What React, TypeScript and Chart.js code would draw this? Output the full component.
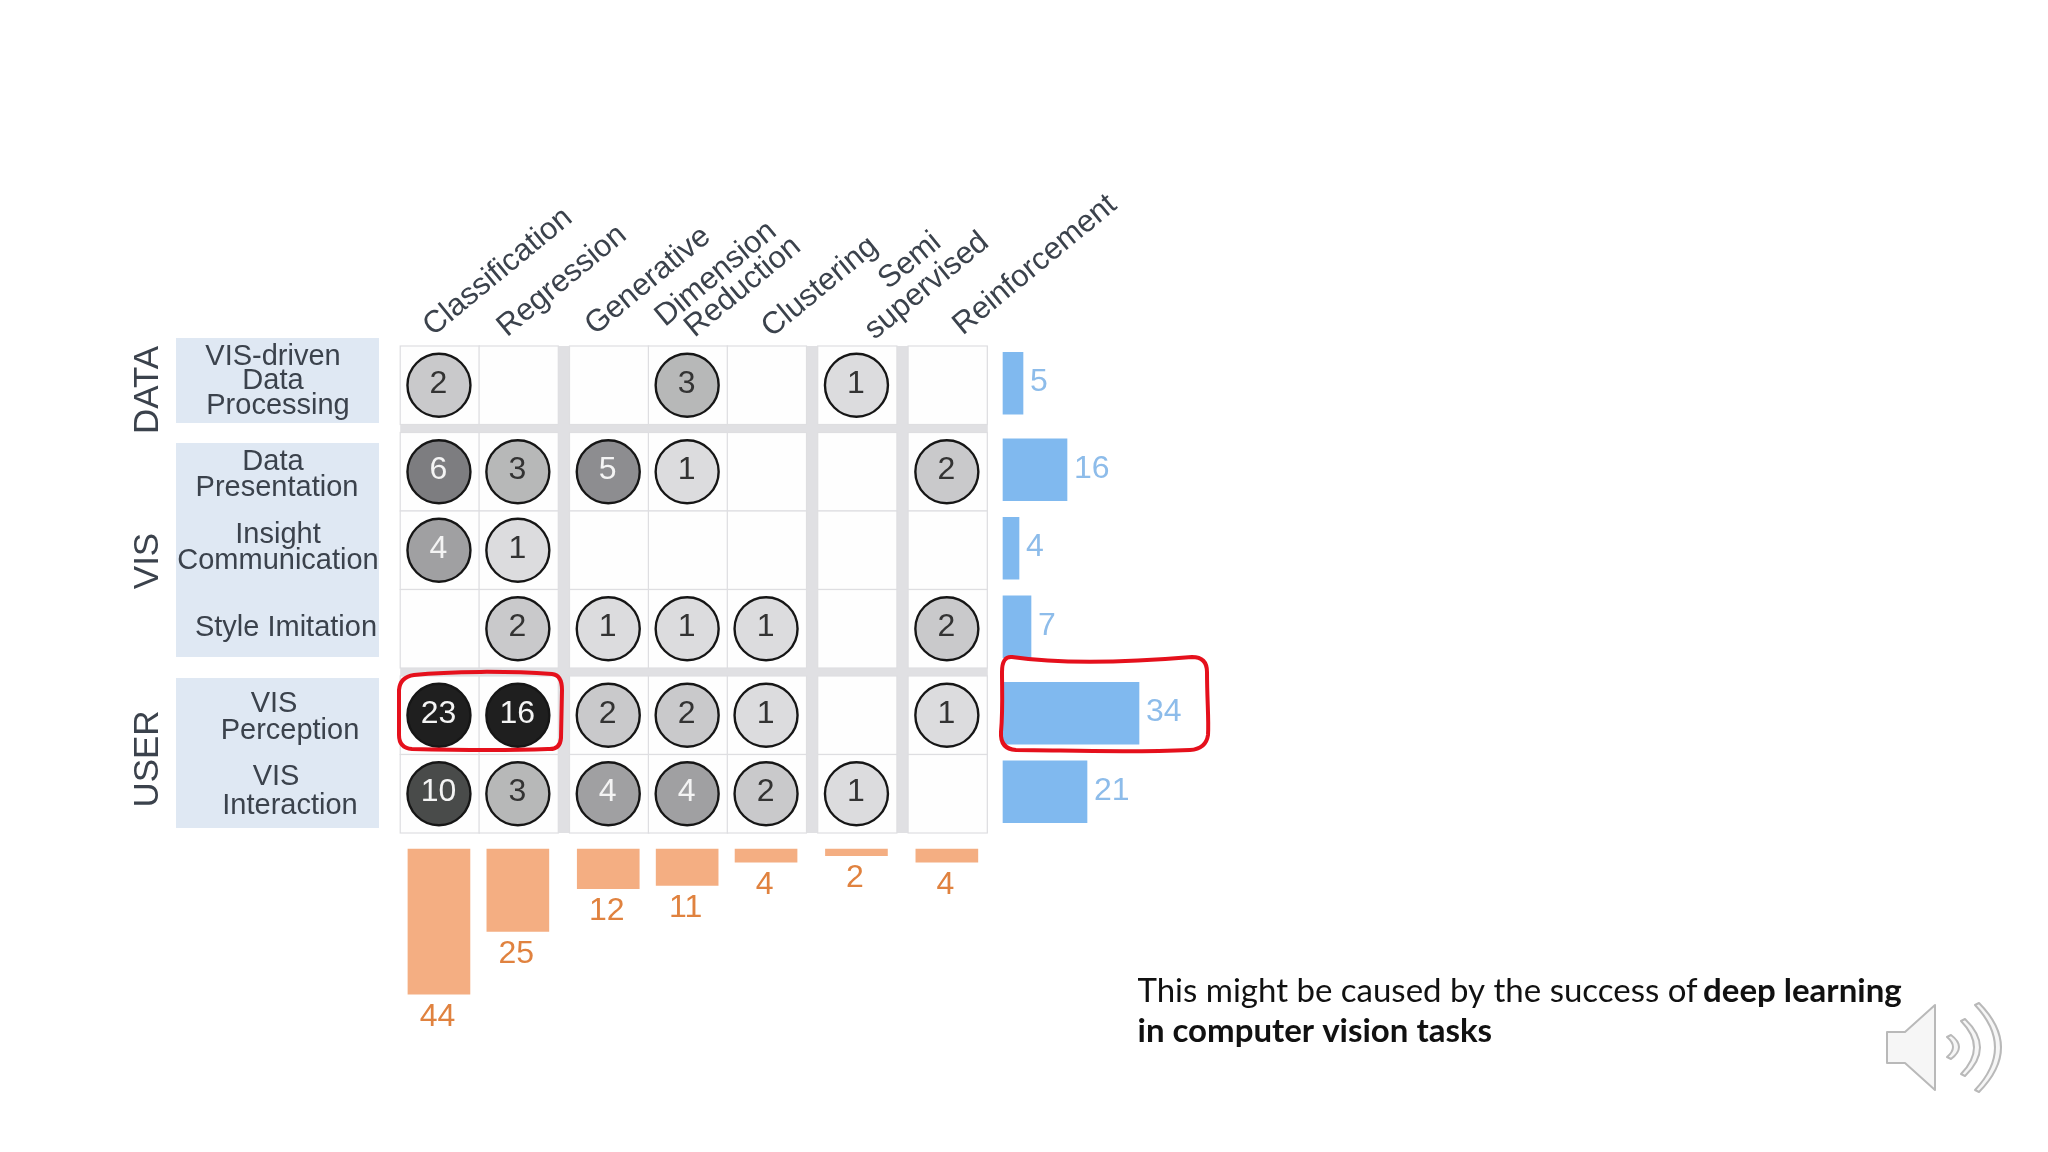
import React, { useEffect, useRef } from "react";
import { Chart, registerables } from "chart.js";

Chart.register(...registerables);

const methods = ["Classification", "Regression", "Generative", "Dimension\nReduction", "Clustering", "Semi\nsupervised", "Reinforcement"];
const tasks = ["VIS-driven\nData\nProcessing", "Data\nPresentation", "Insight\nCommunication", "Style Imitation", "VIS\nPerception", "VIS\nInteraction"];
const stages = ["DATA", "VIS", "USER"];
const row1 = [2, null, null, 3, null, 1, null];
const row2 = [6, 3, 5, 1, null, null, 2];
const row3 = [4, 1, null, null, null, null, null];
const row4 = [null, 2, 1, 1, 1, null, 2];
const row5 = [23, 16, 2, 2, 1, null, 1];
const row6 = [10, 3, 4, 4, 2, 1, null];
const rowTotals = [5, 16, 4, 7, 34, 21];
const columnTotals = [44, 25, 12, 11, 4, 2, 4];

const matrix = [row1, row2, row3, row4, row5, row6];

// layout (pixels on the page)
const LEFT = 399.5, RIGHT = 1230, TOP = 346, BOTTOM = 1060;
const CW = 78.9, RH = 78.5;
const COL_GAP = 11.5 / CW, ROW_GAP = 8 / RH;
const colGroup = [0, 0, 1, 1, 1, 2, 3];
const rowGroup = [0, 1, 1, 1, 2, 2];
const colPos = colGroup.map((g, i) => i + 0.5 + g * COL_GAP);
const rowPos = rowGroup.map((g, i) => i + 0.5 + g * ROW_GAP);
const H_BASE = 1003, H_PX = 4.0, V_BASE = 849, V_PX = 3.3;

const FONT = '"Liberation Sans", Arial, sans-serif';
const INK = "#3b424c";
const shades: Record<number, string> = {
  1: "#dcdcde", 2: "#c9c9cb", 3: "#b7b8b8", 4: "#a0a0a2", 5: "#8d8d90", 6: "#7d7d80",
  10: "#494b4a", 16: "#1f1f1f", 23: "#1f1f1f",
};

const dots: { x: number; y: number; v: number }[] = [];
matrix.forEach((row, r) =>
  row.forEach((v, c) => {
    if (v !== null) dots.push({ x: colPos[c], y: rowPos[r], v });
  })
);

// horizontal centre of each row-label line, on the page
const rowLineCentres = [[273, 273, 278], [273, 277], [278, 278], [286], [274, 290], [276, 290]];
const rowLineY = [[356.5, 380.5, 405.5], [461.5, 487.5], [534.5, 560.5], [627.5], [703.5, 730.5], [776.5, 805.5]];
// centre of each rotated header line, on the page
const headerCentres = [
  [[498, 272]], [[562, 281]], [[648, 281]],
  [[716, 274], [743, 287]], [[820, 287]],
  [[910, 261], [927, 286]], [[1035, 265]],
];

const overlay = {
  id: "overlay",
  beforeDatasetsDraw(chart: any) {
    const { ctx, scales } = chart;
    const x = scales.x, y = scales.y;
    ctx.save();
    ctx.fillStyle = "#e0e0e3";
    ctx.fillRect(x.getPixelForValue(0) + 0.7, y.getPixelForValue(0), colPos[6] * CW + CW / 2 + 0.8, rowPos[5] * RH + RH / 2);
    rowPos.forEach((ry) =>
      colPos.forEach((cx) => {
        const l = x.getPixelForValue(cx - 0.5) + 0.7, t = y.getPixelForValue(ry - 0.5);
        ctx.fillStyle = "#fefefe";
        ctx.fillRect(l, t, CW + 0.3, RH);
        ctx.strokeStyle = "#dedee1";
        ctx.lineWidth = 1.2;
        ctx.strokeRect(l, t, CW + 0.3, RH);
      })
    );
    // stage bands
    ctx.fillStyle = "#dfe8f3";
    const band = (a: number, b: number, dt: number, db: number) => {
      const t = y.getPixelForValue(rowPos[a] - 0.5) + dt, bt = y.getPixelForValue(rowPos[b] + 0.5) + db;
      ctx.fillRect(176, t, 203, bt - t);
    };
    band(0, 0, -8, -1.5);
    band(1, 3, 10.5, -11);
    band(4, 5, 2, -5);
    ctx.restore();
  },
  afterDatasetsDraw(chart: any) {
    const { ctx, scales } = chart;
    const x = scales.x, y = scales.y, hb = scales.xBar, vb = scales.yBar;
    ctx.save();
    ctx.textAlign = "center";
    ctx.textBaseline = "middle";

    // numbers in the circles
    ctx.font = `32px ${FONT}`;
    dots.forEach((d) => {
      ctx.fillStyle = d.v >= 4 ? "#f4f4f4" : "#333333";
      ctx.fillText(String(d.v), x.getPixelForValue(d.x) - 0.5, y.getPixelForValue(d.y) - 1.5);
    });

    // row labels
    ctx.font = `29px ${FONT}`;
    ctx.fillStyle = INK;
    tasks.forEach((t, i) =>
      t.split("\n").forEach((line, k) => ctx.fillText(line, rowLineCentres[i][k], rowLineY[i][k]))
    );

    // stage labels
    ctx.font = `35px ${FONT}`;
    const stageY = [390, 561, 759];
    stages.forEach((s, i) => {
      ctx.save();
      ctx.translate(148.5, stageY[i]);
      ctx.rotate(-Math.PI / 2);
      ctx.fillText(s, 0, 0);
      ctx.restore();
    });

    // column labels
    ctx.font = `31px ${FONT}`;
    methods.forEach((m, i) =>
      m.split("\n").forEach((line, k) => {
        const [cx, cy] = headerCentres[i][k];
        ctx.save();
        ctx.translate(cx, cy);
        ctx.rotate((-39.5 * Math.PI) / 180);
        ctx.fillText(line, 0, 0);
        ctx.restore();
      })
    );

    // totals
    ctx.font = `32px ${FONT}`;
    ctx.fillStyle = "#8dbcea";
    ctx.textAlign = "left";
    rowTotals.forEach((v, i) => ctx.fillText(String(v), hb.getPixelForValue(v) + 7, y.getPixelForValue(rowPos[i]) - 3));
    ctx.fillStyle = "#e0823f";
    ctx.textAlign = "center";
    columnTotals.forEach((v, i) => ctx.fillText(String(v), x.getPixelForValue(colPos[i]) - 1.5, vb.getPixelForValue(v) + 22.5));

    // sentence
    const sx = 1137.5;
    ctx.textAlign = "left";
    ctx.textBaseline = "alphabetic";
    ctx.fillStyle = "#111111";
    const reg = "This might be caused by the success of ";
    ctx.font = `33px Lato, sans-serif`;
    ctx.fillText(reg, sx, 1002);
    const w = ctx.measureText(reg).width;
    ctx.font = `bold 33px Lato, sans-serif`;
    ctx.fillText("deep learning", sx + w - 3, 1002);
    ctx.fillText("in computer vision tasks", sx, 1042);

    // hand-drawn highlights
    ctx.strokeStyle = "#e5101c";
    ctx.lineWidth = 4;
    ctx.lineJoin = "round";
    ctx.beginPath();
    ctx.moveTo(414, 675);
    ctx.bezierCurveTo(450, 671, 510, 671, 552, 674);
    ctx.quadraticCurveTo(562, 675, 562, 690);
    ctx.lineTo(561, 738);
    ctx.quadraticCurveTo(560, 750, 548, 749);
    ctx.bezierCurveTo(500, 751, 450, 750, 412, 749);
    ctx.quadraticCurveTo(399, 748, 399, 735);
    ctx.lineTo(399, 690);
    ctx.quadraticCurveTo(400, 677, 414, 675);
    ctx.closePath();
    ctx.stroke();
    ctx.beginPath();
    ctx.moveTo(1012, 657);
    ctx.bezierCurveTo(1060, 664, 1120, 663, 1192, 657);
    ctx.quadraticCurveTo(1207, 657, 1207, 672);
    ctx.bezierCurveTo(1207, 700, 1209, 720, 1208, 735);
    ctx.quadraticCurveTo(1206, 749, 1190, 750);
    ctx.bezierCurveTo(1120, 753, 1060, 750, 1016, 750);
    ctx.quadraticCurveTo(1000, 749, 1001, 732);
    ctx.bezierCurveTo(1003, 710, 1002, 690, 1002, 672);
    ctx.quadraticCurveTo(1002, 656, 1012, 657);
    ctx.closePath();
    ctx.stroke();

    // speaker icon
    ctx.strokeStyle = "#b9b9b9";
    ctx.fillStyle = "#f6f6f6";
    ctx.lineWidth = 2;
    ctx.beginPath();
    ctx.moveTo(1887, 1032);
    ctx.lineTo(1905, 1032);
    ctx.lineTo(1935, 1005);
    ctx.lineTo(1935, 1090);
    ctx.lineTo(1905, 1063);
    ctx.lineTo(1887, 1063);
    ctx.closePath();
    ctx.fill();
    ctx.stroke();
    const arc = (x0: number, top: number, bottom: number, bulge: number, thick: number) => {
      const mid = (top + bottom) / 2;
      ctx.beginPath();
      ctx.moveTo(x0, top);
      ctx.quadraticCurveTo(x0 + bulge, mid, x0, bottom);
      ctx.lineTo(x0 + 4, bottom + 2);
      ctx.quadraticCurveTo(x0 + bulge + thick, mid, x0 + 4, top - 2);
      ctx.closePath();
      ctx.fill();
      ctx.stroke();
    };
    arc(1947, 1037, 1057, 12, 8);
    arc(1961, 1021, 1074, 26, 8);
    arc(1975, 1005, 1090, 40, 8);
    ctx.restore();
  },
};

export default function App() {
  const ref = useRef<HTMLCanvasElement | null>(null);
  useEffect(() => {
    const chart = new Chart(ref.current as HTMLCanvasElement, {
      type: "bar",
      data: {
        datasets: [
          {
            type: "scatter",
            label: "Papers",
            data: dots as any,
            xAxisID: "x",
            yAxisID: "y",
            pointRadius: 31.5,
            pointBorderWidth: 2.4,
            pointBorderColor: "#161616",
            pointBackgroundColor: (c: any) => shades[c.raw?.v] ?? "#cccccc",
            clip: false,
          } as any,
          {
            type: "bar",
            label: "Row totals",
            indexAxis: "y",
            data: rowTotals.map((v, i) => ({ x: v, y: rowPos[i] - 2 / RH })) as any,
            xAxisID: "xBar",
            yAxisID: "y",
            backgroundColor: "#80b9ef",
            barThickness: 62,
            grouped: false,
            clip: false,
          } as any,
          {
            type: "bar",
            label: "Column totals",
            data: columnTotals.map((v, i) => ({ x: colPos[i], y: v })) as any,
            xAxisID: "x",
            yAxisID: "yBar",
            backgroundColor: "#f4ae82",
            barThickness: 62,
            grouped: false,
            clip: false,
          } as any,
        ],
      },
      options: {
        responsive: false,
        animation: false,
        events: [],
        layout: { padding: { left: LEFT, top: TOP, right: 2048 - RIGHT, bottom: 1152 - BOTTOM } },
        plugins: { legend: { display: false }, tooltip: { enabled: false }, title: { display: false } },
        scales: {
          x: { type: "linear", axis: "x", display: false, offset: false, min: 0, max: (RIGHT - LEFT) / CW },
          y: { type: "linear", axis: "y", display: false, offset: false, reverse: true, min: 0, max: (BOTTOM - TOP) / RH },
          xBar: { type: "linear", axis: "x", display: false, offset: false, beginAtZero: false, min: -(H_BASE - LEFT) / H_PX, max: (RIGHT - H_BASE) / H_PX },
          yBar: { type: "linear", axis: "y", display: false, offset: false, reverse: true, beginAtZero: false, min: -(V_BASE - TOP) / V_PX, max: (BOTTOM - V_BASE) / V_PX },
        } as any,
      },
      plugins: [overlay],
    } as any);
    return () => chart.destroy();
  }, []);
  return (
    <div style={{ position: "absolute", left: 0, top: 0, width: 2048, height: 1152, background: "#ffffff" }}>
      <canvas ref={ref} width={2048} height={1152} style={{ display: "block" }} />
    </div>
  );
}
